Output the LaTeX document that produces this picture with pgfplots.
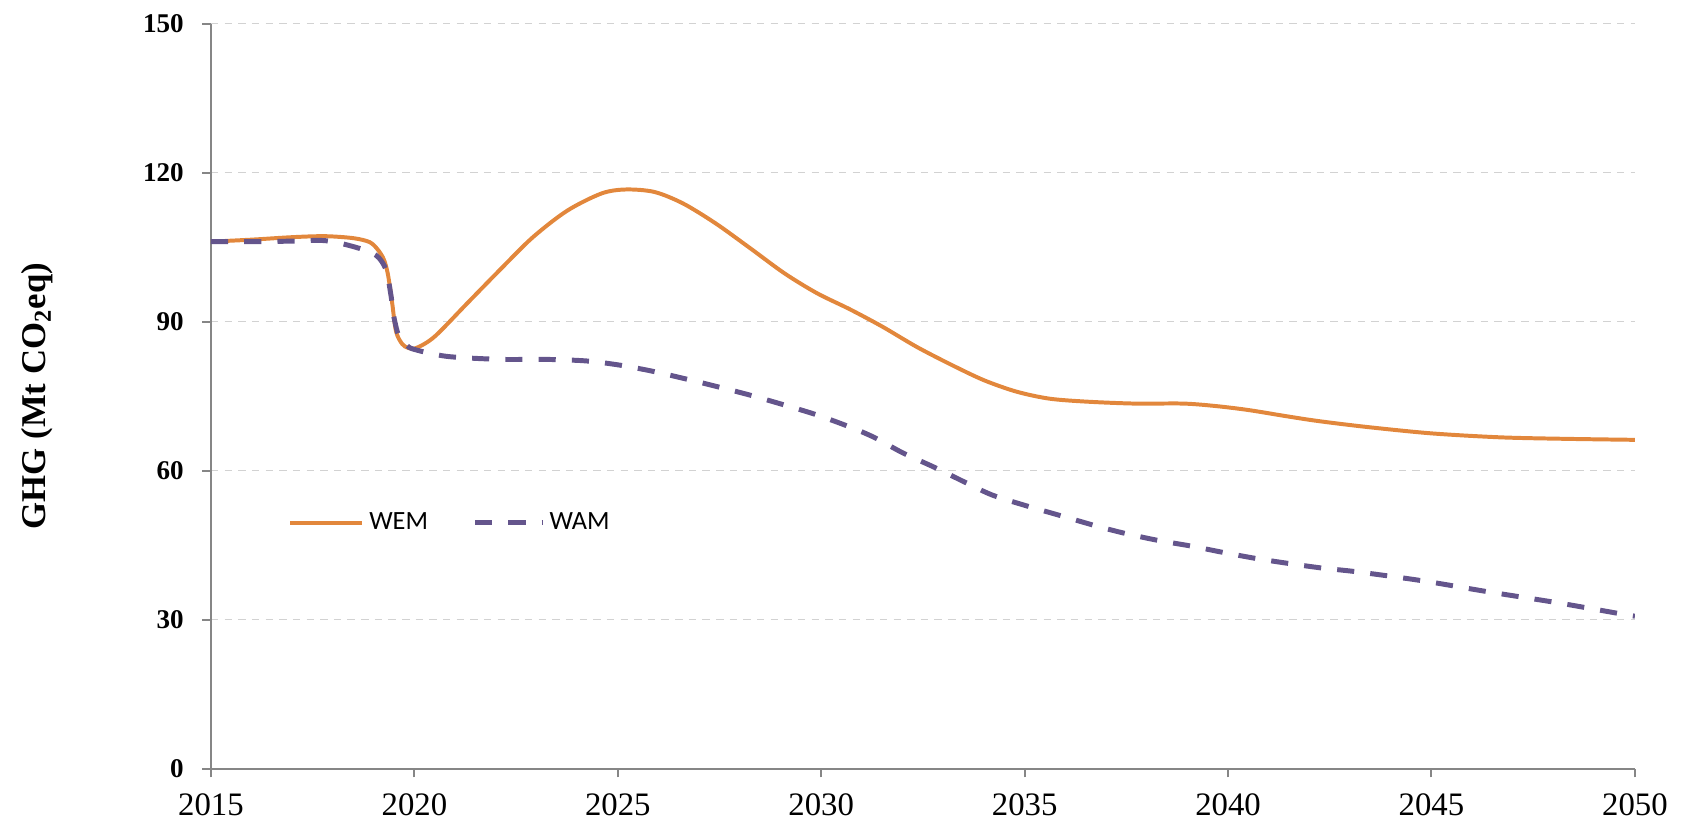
\documentclass[border=0pt]{standalone}
\usepackage{fontspec}
\setmainfont{Liberation Serif}
\newfontfamily\legfont{Carlito}
\usepackage{pgfplots}
\pgfplotsset{compat=1.18}
\definecolor{wem}{RGB}{226,135,60}
\definecolor{wam}{RGB}{100,85,140}
\definecolor{axgray}{RGB}{134,134,134}
\begin{document}
\begin{tikzpicture}
\begin{axis}[
  name=ax,
  scale only axis,
  width=573.7pt, height=300.2pt,
  xmin=2015, xmax=2050, ymin=0, ymax=150,
  xtick={2015,2020,...,2050},
  ytick={0,30,...,150},
  axis x line*=bottom, axis y line*=left,
  axis line style={axgray, line width=0.8pt},
  tick style={axgray, line width=0.8pt},
  tick align=outside,
  major tick length=3.5pt,
  minor tick num=0,
  ymajorgrids,
  major grid style={gray!35, line width=0.6pt, dash pattern=on 3pt off 2.5pt},
  /pgf/number format/assume math mode=true,
  /pgf/number format/1000 sep={},
  xticklabel style={font=\fontsize{13.2}{15}\selectfont, yshift=-3pt},
  yticklabel style={font=\bfseries\fontsize{10.9}{12}\selectfont, xshift=-4pt},
  ylabel={GHG (Mt CO\textsubscript{2}eq)},
  ylabel style={font=\bfseries\fontsize{14}{16}\selectfont, at={(axis description cs:-0.122,0.5)}, anchor=center, rotate=0},
  legend columns=2,
  legend style={draw=none, fill=none, inner sep=0pt, at={(rel axis cs:0.054,0.33)}, anchor=west,
    font=\legfont\fontsize{10.6}{12}\selectfont,
    /tikz/every even column/.append style={column sep=16pt}},
  legend cell align=left,
]
\addplot[wem, line width=1.6pt, smooth, tension=0.5,
  legend image code/.code={\draw[wem, line width=1.6pt] (0pt,0pt) -- (29pt,0pt);}]
coordinates {
(2015,106.1) (2016,106.5) (2017,107.0) (2017.8,107.2) (2018.5,106.8) (2018.9,106.0)
(2019.1,104.5) (2019.25,102.5) (2019.35,99.5) (2019.45,94) (2019.55,88) (2019.7,85.5)
(2019.85,84.7) (2020.05,84.7) (2020.5,87.0) (2021.3,93.7) (2022.1,100.4) (2022.9,106.9)
(2023.75,112.3) (2024.6,115.8) (2025.2,116.6) (2025.9,116.1) (2026.6,113.8) (2027.4,109.8)
(2028.25,104.8) (2029.1,99.7) (2029.9,95.7) (2030.7,92.5) (2031.5,89.0) (2032.35,84.9)
(2033.2,81.3) (2034,78.2) (2034.8,75.9) (2035.6,74.5) (2036.5,73.9) (2037.7,73.5)
(2038.9,73.5) (2039.7,73.0) (2040.5,72.2) (2041.4,71.0) (2042.2,70.0) (2043.4,68.8)
(2045,67.5) (2046.7,66.7) (2048.3,66.4) (2050,66.2)
};
\addlegendentry{WEM}
\addplot[wam, line width=2pt, smooth, tension=0.5, dash pattern=on 6.9pt off 6.5pt,
  legend image code/.code={\draw[wam, line width=2pt, dash pattern=on 6.9pt off 6.5pt] (0pt,0pt) -- (27pt,0pt);}]
coordinates {
(2015,106.1) (2016,106.1) (2017,106.2) (2017.8,106.3) (2018.5,105.1) (2019.05,103.4)
(2019.3,100.5) (2019.42,95.5) (2019.5,90.8) (2019.62,87.0) (2019.8,85.3) (2020.0,84.4)
(2020.8,83.0) (2022.1,82.4) (2023.2,82.4) (2024.2,82.1) (2025,81.3) (2025.8,80.1)
(2026.6,78.6) (2027.4,77.0) (2028.25,75.2) (2029.1,73.2) (2029.9,71.2) (2030.7,68.8)
(2031.3,66.7) (2032,63.6) (2032.8,60.6) (2033.5,57.8) (2034.2,55.1) (2035.05,52.9)
(2035.9,50.9) (2036.7,49.0) (2037.4,47.5) (2038.25,46.0) (2039.1,44.8) (2039.9,43.5)
(2040.7,42.3) (2041.5,41.3) (2042.3,40.4) (2043.2,39.6) (2044.8,37.8) (2046.4,35.6)
(2048.1,33.4) (2049.7,31.1) (2050,30.7)
};
\addlegendentry{WAM}
\end{axis}
\pgfresetboundingbox
\path ([shift={(-85pt,-24.3pt)}]ax.south west) rectangle ([shift={(21.4pt,9.5pt)}]ax.north east);
\end{tikzpicture}
\end{document}
